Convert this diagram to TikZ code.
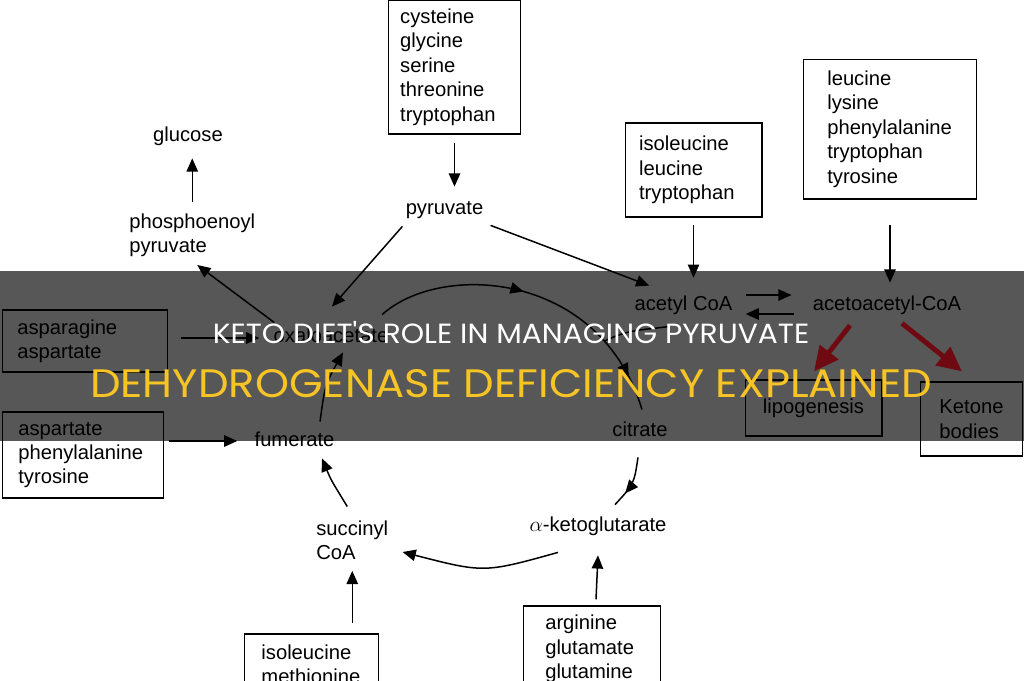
\documentclass[tikz,border=0pt]{standalone}
\usepackage{fontspec}
\setmainfont{Liberation Sans}
\newfontfamily\titlefont{Poppins}
\usetikzlibrary{arrows.meta,calc,decorations.markings}

\definecolor{bandgray}{RGB}{87,87,87}
\definecolor{titleyellow}{RGB}{247,196,37}
\definecolor{ketored}{RGB}{112,10,18}

\newcommand{\diagfont}{\fontsize{11.5pt}{13.9pt}\selectfont}

\tikzset{
  met/.style={font=\diagfont, inner sep=0pt, text height=8pt, text depth=2.3pt},
  multi/.style={font=\diagfont, inner sep=0pt, align=left},
  aabox/.style={draw, line width=0.85pt, font=\diagfont, align=left, inner ysep=0pt},
  arr/.style={line width=0.85pt, -{Triangle[length=7.5pt,width=6.5pt]}},
  cyc/.style={line width=0.85pt},
  redarr/.style={ketored, line width=2.8pt, -{Triangle[length=14pt,width=13pt]}},
  tipat/.style={postaction={decorate, decoration={markings,
      mark=at position #1 with {\arrow{Triangle[length=7.5pt,width=6.5pt]}}}}},
}

\begin{document}
\begin{tikzpicture}[x=0.02cm, y=-0.02cm]
\useasboundingbox (0,0) rectangle (1024,680);
\clip (0,0) rectangle (1024,680);
\fill[white] (0,0) rectangle (1024,680);
\fill[bandgray] (0,271) rectangle (1024,441);

  \node[aabox, text width=61.8pt, inner xsep=6.8pt, minimum height=76pt] (cys) at (454.5,67)
    {cysteine\\glycine\\serine\\threonine\\tryptophan};
  \node[aabox, text width=61.9pt, inner xsep=7.9pt, minimum height=53.3pt] (ile) at (693.5,170)
    {isoleucine\\leucine\\tryptophan};
  \node[aabox, text width=71.4pt, inner xsep=13.6pt, minimum height=79.4pt] (leu) at (890,129)
    {leucine\\lysine\\phenylalanine\\tryptophan\\tyrosine};
  \node[aabox, text width=77.1pt, inner xsep=8.5pt, minimum height=35.1pt] (asn) at (85,341)
    {asparagine\\aspartate};
  \node[aabox, text width=73.6pt, inner xsep=9.1pt, minimum height=48.8pt] (asp) at (83,455)
    {aspartate\\phenylalanine\\tyrosine};
  \node[aabox, minimum width=77.7pt, minimum height=31.7pt] (lipo) at (813.5,408) {lipogenesis};
  \node[aabox, inner xsep=10.8pt, minimum height=42pt] (ket) at (971.5,419) {Ketone\\bodies};
  \node[aabox, text width=57pt, inner xsep=9.6pt, minimum height=34pt] (ilemet) at (311.5,664)
    {isoleucine\\methionine};
  \node[aabox, text width=53.2pt, inner xsep=12.5pt, minimum height=48.8pt] (arg) at (592,649)
    {arginine\\glutamate\\glutamine};

  \node[met] (glc) at (188,136) {glucose};
  \node[multi, anchor=west] (pep) at (129,235) {phosphoenoyl\\pyruvate};
  \node[met] (pyr) at (444.5,209) {pyruvate};
  \node[met] (oaa) at (331,337) {oxaloacetate};
  \node[met] (fum) at (294.5,441) {fumerate};
  \node[multi, anchor=west] (succ) at (316,540) {succinyl\\CoA};
  \node[met] (akg) at (598,526) {$\alpha$-ketoglutarate};
  \node[met] (cit) at (640,431) {citrate};
  \node[met] (acoa) at (683.5,305) {acetyl CoA};
  \node[met] (aacoa) at (887,305) {acetoacetyl-CoA};

  \draw[arr, shorten <=5.1pt, shorten >=7.4pt] (cys.south) -- (cys.south |- pyr.north);
  \draw[arr, shorten <=6.2pt, shorten >=7.4pt] (pep.north) -- (pep.north |- glc.south);
  \draw[arr] ($(oaa.north west)+(1,-5)$) -- ($(pep.south)+(5,8)$);
  \draw[arr] ($(pyr.south west)+(-3,8)$) -- ($(oaa.north)+(1,-21)$);
  \draw[arr] ($(pyr.south east)+(7,7)$) -- ($(acoa.north west)+(15,-10)$);
  \draw[arr, shorten <=4.5pt, shorten >=10.2pt] (ile.south) -- (ile.south |- acoa.north);
  \draw[arr, shorten <=14.7pt, shorten >=7.4pt] (leu.south) -- (leu.south |- aacoa.north);
  \draw[arr] ($(acoa.east)+(13,-10)$) -- ($(aacoa.west)+(-21,-10)$);
  \draw[arr] ($(aacoa.west)+(-19,9)$) -- ($(acoa.east)+(13,9)$);
  \draw[arr] ($(asn.east)+(13,-3)$) -- ($(oaa.west)+(-14,1)$);
  \draw[arr] ($(asp.east)+(5,-14)$) -- ($(fum.west)+(-17,0)$);
  \draw[arr, shorten <=6.2pt, shorten >=6.2pt] (ilemet.north -| succ.north) -- (succ.south);
  \draw[arr] ($(arg.north)+(4,-6)$) -- ($(akg.south)+(0,20)$);

  \draw[cyc, tipat=0.46, tipat=0.89] ($(oaa.north east)+(-6.5,-13)$)
    .. controls (440,262) and (600,270) .. coordinate[pos=0.8] (join) ($(cit.north)+(2,-12)$);
  \draw[cyc] ($(acoa.south)+(-13.5,12)$) .. controls +(-30,4) and +(25,-12) .. (join);
  \draw[cyc, tipat=0.72] ($(cit.south)+(-2,17)$) .. controls (634,484) .. ($(akg.north)+(17,-12)$);
  \draw[arr] ($(akg.south)+(-40,17)$) .. controls (484,573) .. ($(succ.east)+(14,12)$);
  \draw[arr] ($(succ.north)+(-5,-13.5)$) .. controls (331,480) .. ($(fum.south)+(27.5,8)$);
  \draw[arr] ($(fum.north)+(25.5,-10)$) .. controls (325,385) .. ($(oaa.south)+(12,6)$);

  \draw[redarr] ($(aacoa.south)+(-37,11)$) -- ($(lipo.north)+(0.5,-8)$);
  \draw[redarr] ($(aacoa.south)+(15,9)$) -- ($(ket.north)+(-9.5,-10)$);

  \node[font=\titlefont\fontsize{15.8pt}{18pt}\selectfont, text=white, anchor=base, inner sep=0pt]
    (ttlone) at (511,343) {\scalebox{1.07}[1]{KETO DIET'S ROLE IN MANAGING PYRUVATE}};
  \node[font=\titlefont\fontsize{22.6pt}{26pt}\selectfont, text=titleyellow, anchor=base, inner sep=0pt]
    (ttltwo) at (511,397) {\scalebox{1.09}[1]{DEHYDROGENASE DEFICIENCY EXPLAINED}};
\end{tikzpicture}
\end{document}
